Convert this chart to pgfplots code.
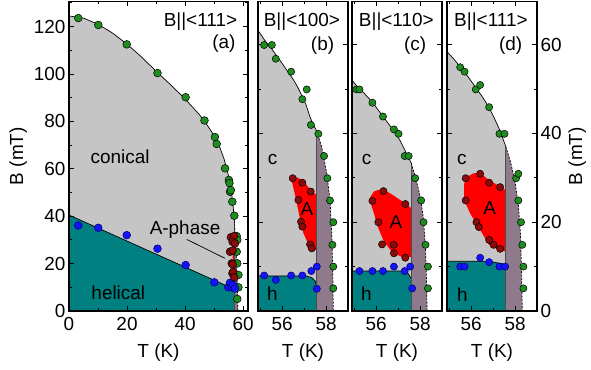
\documentclass[border=0pt]{standalone}
\usepackage{pgfplots}
\pgfplotsset{compat=1.18}
\usepackage{fontspec}
\setmainfont{Liberation Sans}
\definecolor{cgray}{RGB}{197,197,197}
\definecolor{cteal}{RGB}{0,128,128}
\definecolor{cmauve}{RGB}{143,122,140}
\definecolor{cgreen}{RGB}{30,140,30}
\definecolor{cblue}{RGB}{20,20,250}
\definecolor{cdred}{RGB}{140,10,10}
\definecolor{cred}{RGB}{255,0,0}
\newcommand{\fs}{\fontsize{19}{21}\selectfont}
\pgfplotsset{
  panel/.style={scale only axis, axis on top, ymin=0, height=309.5bp, anchor=south west,
    axis line style={line width=1.5bp},
    tick style={black, line width=0.9bp},
    major tick length=5bp, minor tick length=3bp, tick align=inside,
    tick label style={font=\fs},
    xticklabel style={yshift=-3bp},
    label style={font=\fs},
    xlabel style={yshift=-6bp},
    /pgf/number format/assume math mode=true,
    xlabel={T (K)}},
  small/.style={panel, width=90bp, xmin=54.9, xmax=59, ymax=69.7,
    xtick={56,58}, minor xtick={55,57,59},
    ytick={0,20,40,60}, minor ytick={10,30,50}},
  ms/.initial=3.6bp,
  gpt/.style={only marks, mark=*, mark size=\pgfkeysvalueof{/pgfplots/ms}, mark options={fill=cgreen, draw=black, line width=0.5bp}},
  bpt/.style={only marks, mark=*, mark size=\pgfkeysvalueof{/pgfplots/ms}, mark options={fill=cblue, draw=black!60!blue, line width=0.5bp}},
  rpt/.style={only marks, mark=*, mark size=\pgfkeysvalueof{/pgfplots/ms}, mark options={fill=cdred, draw=black, line width=0.5bp}},
  bline/.style={black, line width=0.7bp, no marks},
  dline/.style={black, line width=0.7bp, dashed, dash pattern=on 2bp off 1.5bp, no marks},
  vline/.style={black!70, line width=0.7bp, no marks},
}
\begin{document}
\begin{tikzpicture}
\useasboundingbox (0bp,0bp) rectangle (591bp,370bp);
% ---------------- (a)
\begin{axis}[panel, at={(69bp,59bp)}, width=179bp, ms=3.9bp,
  xmin=0, xmax=61.7, ymax=130.6,
  xtick={0,20,40,60}, minor xtick={10,30,50},
  ytick={0,20,...,120}, minor ytick={10,30,...,130},
  ylabel={B (mT)}]
\addplot[fill=cgray, draw=none] coordinates {(0,124.5) (5,123.6) (10,121) (15,117.3) (20,112.6) (25,107.2) (30,101.2) (35,95.5) (40,89.5) (45,82.8) (48,77.8) (50,74) (52,69) (53.5,64) (55,57) (56,50) (56.6,44) (57.0,38) (57.0,0) (0,0)};
\addplot[fill=cmauve, draw=none] coordinates {(57.0,38) (57.4,30) (57.8,20) (58.05,10) (58.2,0) (57.0,0)};
\addplot[fill=cteal, draw=none] coordinates {(0,0) (0,40.5) (55.5,10) (57.0,9.5) (57.0,0)};
\addplot[fill=cred, draw=none] coordinates {(56.3,30) (57.0,30) (57.0,14) (56.6,14)};
\addplot[bline] coordinates {(0,124.5) (5,123.6) (10,121) (15,117.3) (20,112.6) (25,107.2) (30,101.2) (35,95.5) (40,89.5) (45,82.8) (48,77.8) (50,74) (52,69) (53.5,64) (55,57) (56,50) (56.6,44) (57.0,38)};
\addplot[bline] coordinates {(0,40.5) (55.5,10)};
\addplot[vline] coordinates {(57.0,38) (57.0,0)};
\addplot[dline] coordinates {(57.0,38) (57.4,30) (57.8,20) (58.05,10) (58.2,0)};
\addplot[bline] coordinates {(40.6,30.2) (53.8,22.2)};
\addplot[gpt] coordinates {(3.2,123.6) (10.1,120.7) (19.9,112.5) (30.5,100.4) (40.2,90.2) (46.7,80.4) (50.3,73.4) (50.9,70.5) (53.8,60.2) (55.1,55.3) (55.3,54) (55.5,50.3) (55.8,51) (56.3,46.1) (57,40.2) (57.8,31.6) (58,30) (57.8,25) (58,20.1) (58.4,15.2) (58.4,10) (58,5.1)};
\addplot[bpt] coordinates {(3.2,36.1) (10.1,35.1) (19.9,32) (30.5,26.3) (40.2,19.4) (50.1,12.1) (54.9,10) (55.5,11.9) (56.1,10) (56.6,11) (57.2,9.5)};
\addplot[rpt] coordinates {(55.8,31.1) (56.9,31.6) (56.4,29.2) (57.2,28.5) (55.5,25) (56.4,25.5) (56.1,20.1) (56.4,19.7) (56.3,15.9) (56.6,16.5) (57,14.2)};
\node[font=\fs] at (axis cs:17.6,65) {conical};
\node[font=\fs] at (axis cs:17,7.6) {helical};
\node[font=\fs] at (axis cs:40,34.2) {A-phase};
\node[font=\fs] at (axis cs:45.3,122) {B||<111>};
\node[font=\fs] at (axis cs:53.4,113) {(a)};
\end{axis}
% ---------------- (b)
\begin{axis}[small, at={(258bp,59bp)}, yticklabels={}]
\addplot[fill=cgray, draw=none] coordinates {(54.9,63.2) (55.2,61) (55.45,59.5) (55.75,57.5) (56.05,55.4) (56.3,53.6) (56.5,52.2) (56.7,50.5) (56.92,48.3) (57.1,46.3) (57.26,43.8) (57.42,42) (57.58,40.4) (57.58,0) (54.9,0)};
\addplot[fill=cmauve, draw=none] coordinates {(57.58,40.4) (57.8,37) (58.03,31) (58.18,25) (58.26,17.5) (58.31,8) (58.33,0) (57.58,0)};
\addplot[fill=cteal, draw=none] coordinates {(54.9,0) (54.9,7.9) (57.1,7.9) (57.35,7.5) (57.5,6.8) (57.58,5.5) (57.58,0)};
\addplot[fill=cred, draw=none] coordinates {(56.36,30.5) (56.6,30.3) (56.97,29.3) (57.33,27) (57.58,26.1) (57.58,13.7) (57.35,13.9) (57.2,15) (56.97,17.5) (56.82,20.5) (56.64,25) (56.45,29)};
\addplot[bline] coordinates {(54.9,63.2) (55.2,61) (55.45,59.5) (55.75,57.5) (56.05,55.4) (56.3,53.6) (56.5,52.2) (56.7,50.5) (56.92,48.3) (57.1,46.3) (57.26,43.8) (57.42,42) (57.58,40.4)};
\addplot[bline] coordinates {(54.9,7.9) (57.1,7.9) (57.35,7.5) (57.5,6.8) (57.58,5.5)};
\addplot[vline] coordinates {(57.58,40.4) (57.58,0)};
\addplot[dline] coordinates {(57.58,40.4) (57.8,37) (58.03,31) (58.18,25) (58.26,17.5) (58.31,8) (58.33,0)};
\addplot[gpt] coordinates {(55.18,59.9) (55.53,59.9) (55.71,56.8) (56.41,53.9) (57.12,49.9) (56.92,47.7) (57.31,41.9) (57.65,39.9) (57.91,34.9) (58.06,29.9) (58.18,24.9) (58.33,20) (58.29,14.9) (58.33,10) (58.33,5.1)};
\addplot[bpt] coordinates {(55.18,8) (55.71,7) (56.41,8) (56.92,8) (57.33,9) (57.58,10) (57.58,5)};
\addplot[rpt] coordinates {(56.48,29.9) (56.92,28.9) (57.3,26.9) (56.74,25) (56.86,20.1) (56.92,19) (57.27,15) (57.35,14.1)};
\node[font=\fs] at (axis cs:55.56,34.2) {c};
\node[font=\fs] at (axis cs:57.13,22.9) {A};
\node[font=\fs] at (axis cs:55.56,4) {h};
\node[font=\fs] at (axis cs:56.9,65.1) {B||<100>};
\node[font=\fs] at (axis cs:57.84,59.7) {(b)};
\end{axis}
% ---------------- (c)
\begin{axis}[small, at={(352bp,59bp)}, yticklabels={}]
\addplot[fill=cgray, draw=none] coordinates {(54.9,52) (55.1,50.8) (55.4,49.3) (55.8,47.2) (56.3,43.9) (56.8,40.6) (57.1,38.3) (57.35,35.8) (57.6,33.3) (57.6,0) (54.9,0)};
\addplot[fill=cmauve, draw=none] coordinates {(57.6,33.3) (57.8,30) (58.0,26) (58.15,21) (58.25,14) (58.3,6) (58.32,0) (57.6,0)};
\addplot[fill=cteal, draw=none] coordinates {(54.9,0) (54.9,9) (57.2,9) (57.45,8.5) (57.6,7.3) (57.6,0)};
\addplot[fill=cred, draw=none] coordinates {(55.75,25.8) (55.9,26.9) (56.1,27.3) (56.4,27.2) (56.8,26) (57.3,24.3) (57.6,23.2) (57.6,12.2) (57.15,12.2) (56.72,13.3) (56.36,15.6) (56.07,19) (55.9,22) (55.7,25)};
\addplot[bline] coordinates {(54.9,52) (55.1,50.8) (55.4,49.3) (55.8,47.2) (56.3,43.9) (56.8,40.6) (57.1,38.3) (57.35,35.8) (57.6,33.3)};
\addplot[bline] coordinates {(54.9,9) (57.2,9) (57.45,8.5) (57.6,7.3)};
\addplot[vline] coordinates {(57.6,33.3) (57.6,0)};
\addplot[dline] coordinates {(57.6,33.3) (57.8,30) (58.0,26) (58.15,21) (58.25,14) (58.3,6) (58.32,0)};
\addplot[gpt] coordinates {(55.1,49.9) (55.24,49.9) (55.83,46.9) (56.31,43.8) (56.81,40.9) (57.02,39.9) (57.3,34.9) (57.48,34.9) (57.78,29.9) (58.05,24.9) (58.16,20) (58.25,14.9) (58.36,10) (58.36,5.1)};
\addplot[bpt] coordinates {(55.24,9) (55.83,9) (56.31,9) (56.81,10) (57.3,9) (57.55,10) (57.64,5.1)};
\addplot[rpt] coordinates {(56.33,27) (55.83,24.8) (57.33,24.1) (56.1,20) (56.27,15) (56.8,14.9) (56.81,13) (57.33,12)};
\node[font=\fs] at (axis cs:55.56,34.2) {c};
\node[font=\fs] at (axis cs:56.9,20) {A};
\node[font=\fs] at (axis cs:55.56,4) {h};
\node[font=\fs] at (axis cs:56.92,65.1) {B||<110>};
\node[font=\fs] at (axis cs:57.78,59.7) {(c)};
\end{axis}
% ---------------- (d)
\begin{axis}[small, at={(447bp,59bp)}, yticklabel pos=right, ylabel near ticks, ylabel={B (mT)},
  ylabel style={font=\fs}]
\addplot[fill=cgray, draw=none] coordinates {(54.9,58.4) (55.2,56.8) (55.5,55) (55.85,52.8) (56.2,50.4) (56.5,48.3) (56.8,46) (57.05,43.5) (57.3,40.8) (57.58,37) (57.58,0) (54.9,0)};
\addplot[fill=cmauve, draw=none] coordinates {(57.58,37) (57.8,33.5) (58.0,29) (58.15,24) (58.25,17) (58.3,8) (58.33,0) (57.58,0)};
\addplot[fill=cteal, draw=none] coordinates {(54.9,0) (54.9,11.2) (56.8,11.2) (57.58,10.5) (57.58,0)};
\addplot[fill=cred, draw=none] coordinates {(55.68,28.5) (55.75,30) (56.1,31) (56.41,31.1) (56.8,29.5) (57.3,28.1) (57.58,27.2) (57.58,13.4) (57.2,13.9) (56.8,15) (56.5,17.5) (56.2,20) (55.95,22) (55.68,25)};
\addplot[bline] coordinates {(54.9,58.4) (55.2,56.8) (55.5,55) (55.85,52.8) (56.2,50.4) (56.5,48.3) (56.8,46) (57.05,43.5) (57.3,40.8) (57.58,37)};
\addplot[bline] coordinates {(54.9,11.2) (56.8,11.2) (57.58,10.5)};
\addplot[vline] coordinates {(57.58,37) (57.58,0)};
\addplot[dline] coordinates {(57.58,37) (57.8,33.5) (58.0,29) (58.15,24) (58.25,17) (58.3,8) (58.33,0)};
\addplot[gpt] coordinates {(55.5,54.9) (55.7,53.9) (56.21,49.9) (56.41,50.9) (56.82,45.9) (57.29,39.9) (57.52,39.9) (58.05,29.9) (58.15,30.9) (58.15,24.9) (58.27,20) (58.33,14.9) (58.38,10) (58.38,5.1)};
\addplot[bpt] coordinates {(55.5,10) (55.7,10) (56.41,12) (56.82,11) (57.29,10) (57.55,10)};
\addplot[rpt] coordinates {(55.75,29.9) (56.41,30.9) (56.82,28.9) (57.32,27.9) (55.75,24.9) (56.24,20) (56.35,18.9) (56.82,16) (57.02,14.9) (57.32,14)};
\node[font=\fs] at (axis cs:55.58,34.2) {c};
\node[font=\fs] at (axis cs:56.85,23.1) {A};
\node[font=\fs] at (axis cs:55.6,3.6) {h};
\node[font=\fs] at (axis cs:56.9,65.1) {B||<111>};
\node[font=\fs] at (axis cs:57.8,59.7) {(d)};
\end{axis}
\end{tikzpicture}
\end{document}
